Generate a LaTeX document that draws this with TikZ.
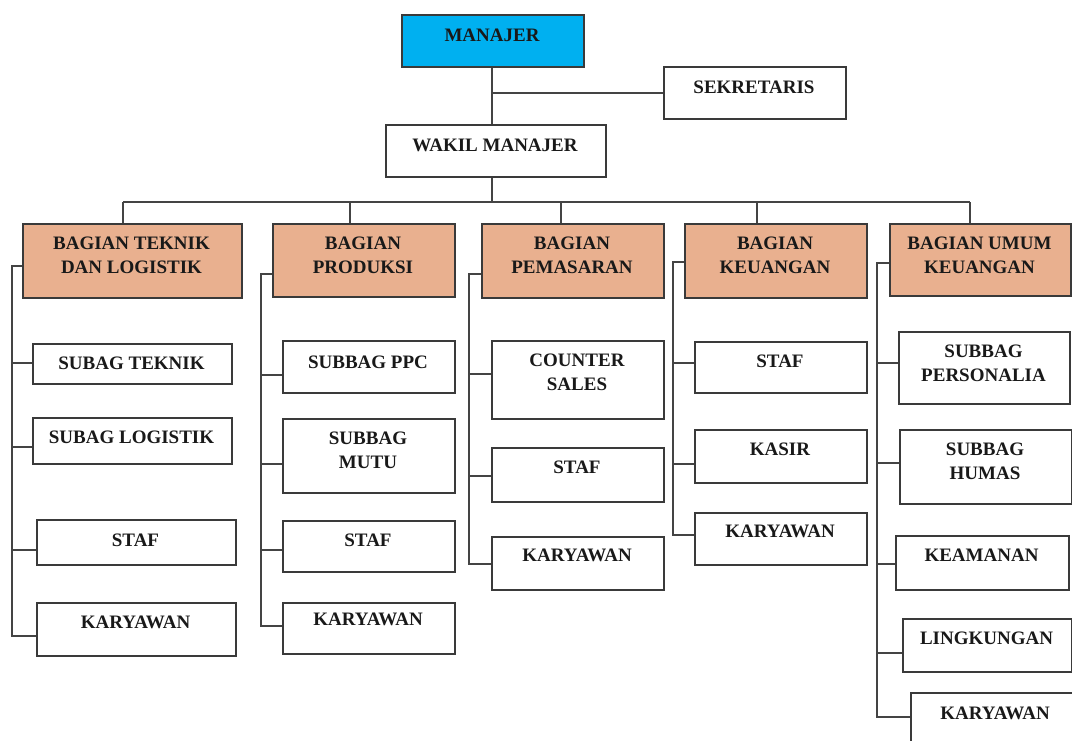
\documentclass[tikz,border=0pt]{standalone}
\usepackage{fontspec}
\setmainfont{Liberation Serif}
\definecolor{linegray}{RGB}{68,68,68}
\definecolor{boxgray}{RGB}{58,58,58}
\definecolor{deptfill}{RGB}{233,176,143}
\definecolor{headfill}{RGB}{0,176,240}
% box from top-left (x1,y1) to bottom-right (x2,y2), text block centred at height ty
\newcommand{\orgbox}[8]{%
  \node[#6, minimum width={(#4-#2)*1pt}, minimum height={(#5-#3)*1pt}, anchor=north west] (#1) at (#2,#3) {};
  \node[lbl] (#1-t) at ({(#2+#4)/2},#8) {#7};}
% horizontal branch from a spine to the west side of a box at height y
\newcommand{\branch}[3]{\draw[conn] (#1 |- 0,#3) -- (#2.west |- 0,#3);}
\begin{document}
\begin{tikzpicture}[x=1pt,y=-1pt,
  conn/.style={draw=linegray, line width=1.7pt},
  box/.style={draw=boxgray, line width=1.5pt, fill=white, inner sep=0pt, rectangle},
  dept/.style={box, fill=deptfill},
  head/.style={box, fill=headfill},
  lbl/.style={font=\fontsize{19}{24}\selectfont\bfseries, text=black!90, align=center, inner sep=0pt}]
\useasboundingbox (0,0) rectangle (1072,740);

% top management
\orgbox{man}{401}{14}{583}{66}{head}{MANAJER}{35}
\orgbox{sek}{663}{66}{845}{118}{box}{SEKRETARIS}{87}
\orgbox{wak}{385}{124}{605}{176}{box}{WAKIL MANAJER}{145}

\coordinate (bus) at (492,202);
\draw[conn] (bus |- man.south) -- (bus |- wak.north);
\draw[conn] (bus |- sek.west) -- (sek.west);
\draw[conn] (bus |- wak.south) -- (bus);

% departments
\orgbox{dT}{22}{223}{241}{297}{dept}{BAGIAN TEKNIK\\DAN LOGISTIK}{255}
\orgbox{dP}{272}{223}{454}{296}{dept}{BAGIAN\\PRODUKSI}{255}
\orgbox{dM}{481}{223}{663}{297}{dept}{BAGIAN\\PEMASARAN}{255}
\orgbox{dK}{684}{223}{866}{297}{dept}{BAGIAN\\KEUANGAN}{255}
\orgbox{dU}{889}{223}{1070}{295}{dept}{BAGIAN UMUM\\KEUANGAN}{255}

\coordinate (bT) at (123,202);
\coordinate (bP) at (350,202);
\coordinate (bM) at (561,202);
\coordinate (bK) at (757,202);
\coordinate (bU) at (970,202);
\draw[conn] (bT) -- (bU);
\foreach \b/\d in {bT/dT, bP/dP, bM/dM, bK/dK, bU/dU}
  \draw[conn] (\b) -- (\b |- \d.north);

% Bagian Teknik dan Logistik
\orgbox{tT1}{32}{343}{231}{383}{box}{SUBAG TEKNIK}{363}
\orgbox{tT2}{32}{417}{231}{463}{box}{SUBAG LOGISTIK}{437}
\orgbox{tT3}{36}{519}{235}{564}{box}{STAF}{540}
\orgbox{tT4}{36}{602}{235}{655}{box}{KARYAWAN}{622}
\coordinate (sT) at (12,266);
\draw[conn] (sT -| dT.west) -- (sT) -- (sT |- 0,636) -- (tT4.west |- 0,636);
\branch{sT}{tT1}{363}
\branch{sT}{tT2}{447}
\branch{sT}{tT3}{550}

% Bagian Produksi
\orgbox{tP1}{282}{340}{454}{392}{box}{SUBBAG PPC}{362}
\orgbox{tP2}{282}{418}{454}{492}{box}{SUBBAG\\MUTU}{450}
\orgbox{tP3}{282}{520}{454}{571}{box}{STAF}{540}
\orgbox{tP4}{282}{602}{454}{653}{box}{KARYAWAN}{619}
\coordinate (sP) at (261,274);
\draw[conn] (sP -| dP.west) -- (sP) -- (sP |- 0,626) -- (tP4.west |- 0,626);
\branch{sP}{tP1}{375}
\branch{sP}{tP2}{464}
\branch{sP}{tP3}{550}

% Bagian Pemasaran
\orgbox{tM1}{491}{340}{663}{418}{box}{COUNTER\\SALES}{372}
\orgbox{tM2}{491}{447}{663}{501}{box}{STAF}{467}
\orgbox{tM3}{491}{536}{663}{589}{box}{KARYAWAN}{555}
\coordinate (sM) at (469,274);
\draw[conn] (sM -| dM.west) -- (sM) -- (sM |- 0,564) -- (tM3.west |- 0,564);
\branch{sM}{tM1}{374}
\branch{sM}{tM2}{476}

% Bagian Keuangan
\orgbox{tK1}{694}{341}{866}{392}{box}{STAF}{361}
\orgbox{tK2}{694}{429}{866}{482}{box}{KASIR}{449}
\orgbox{tK3}{694}{512}{866}{564}{box}{KARYAWAN}{531}
\coordinate (sK) at (673,262);
\draw[conn] (sK -| dK.west) -- (sK) -- (sK |- 0,535) -- (tK3.west |- 0,535);
\branch{sK}{tK1}{363}
\branch{sK}{tK2}{464}

% Bagian Umum Keuangan
\orgbox{tU1}{898}{331}{1069}{403}{box}{SUBBAG\\PERSONALIA}{363}
\orgbox{tU2}{899}{429}{1071}{503}{box}{SUBBAG\\HUMAS}{461}
\orgbox{tU3}{895}{535}{1068}{589}{box}{KEAMANAN}{555}
\orgbox{tU4}{902}{618}{1071}{671}{box}{LINGKUNGAN}{638}
\orgbox{tU5}{910}{692}{1080}{748}{box}{KARYAWAN}{713}
\coordinate (sU) at (877,263);
\draw[conn] (sU -| dU.west) -- (sU) -- (sU |- 0,717) -- (tU5.west |- 0,717);
\branch{sU}{tU1}{363}
\branch{sU}{tU2}{463}
\branch{sU}{tU3}{564}
\branch{sU}{tU4}{653}
\end{tikzpicture}
\end{document}
